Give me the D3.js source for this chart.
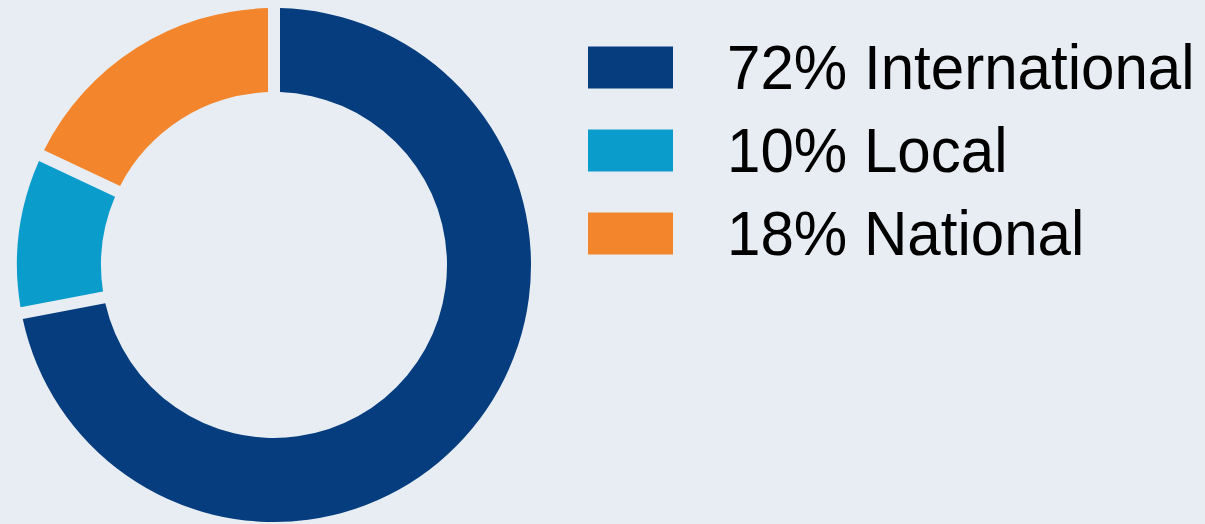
<!DOCTYPE html>
<html>
<head>
<meta charset="utf-8">
<script src="https://cdn.jsdelivr.net/npm/d3@7"></script>
<style>
  html, body { margin: 0; padding: 0; background: #e8edf4; }
  svg { display: block; }
  text { font-family: "Liberation Sans", Arial, sans-serif; }
</style>
</head>
<body>
<svg id="chart" width="1205" height="524"></svg>
<script>
const categories = ["International", "Local", "National"];
const values = [72, 10, 18];
const labels = ["72% International", "10% Local", "18% National"];
const colors = ["#053d7e", "#0a9ccb", "#f3862c"];

const W = 1205, H = 524;
const svg = d3.select("#chart");
svg.append("rect").attr("width", W).attr("height", H).attr("fill", "#e8edf4");

const cx = 274, cy = 265, outerR = 257, innerR = 173;
const gapPx = 12;

const pie = d3.pie().sort(null).value(d => d.value);
const arcs = pie(categories.map((c, i) => ({ cat: c, value: values[i], color: colors[i] })));

const arc = d3.arc()
  .innerRadius(innerR)
  .outerRadius(outerR)
  .padRadius(outerR)
  .padAngle(gapPx / outerR);

svg.append("g")
  .attr("transform", `translate(${cx},${cy})`)
  .selectAll("path")
  .data(arcs)
  .join("path")
  .attr("d", arc)
  .attr("fill", d => d.data.color);

const legendY = d3.scaleBand().domain(categories).range([26, 275]).paddingInner(0);
const legend = svg.append("g");
const items = legend.selectAll("g").data(categories).join("g")
  .attr("transform", d => `translate(588,${legendY(d) + legendY.bandwidth() / 2})`);
items.append("rect")
  .attr("x", 0).attr("y", -21).attr("width", 85).attr("height", 42)
  .attr("fill", (d, i) => colors[i]);
items.append("text")
  .attr("transform", "translate(139,21) scale(0.985,1.02)")
  .attr("font-size", 61)
  .attr("fill", "#000")
  .text((d, i) => labels[i]);
</script>
</body>
</html>
